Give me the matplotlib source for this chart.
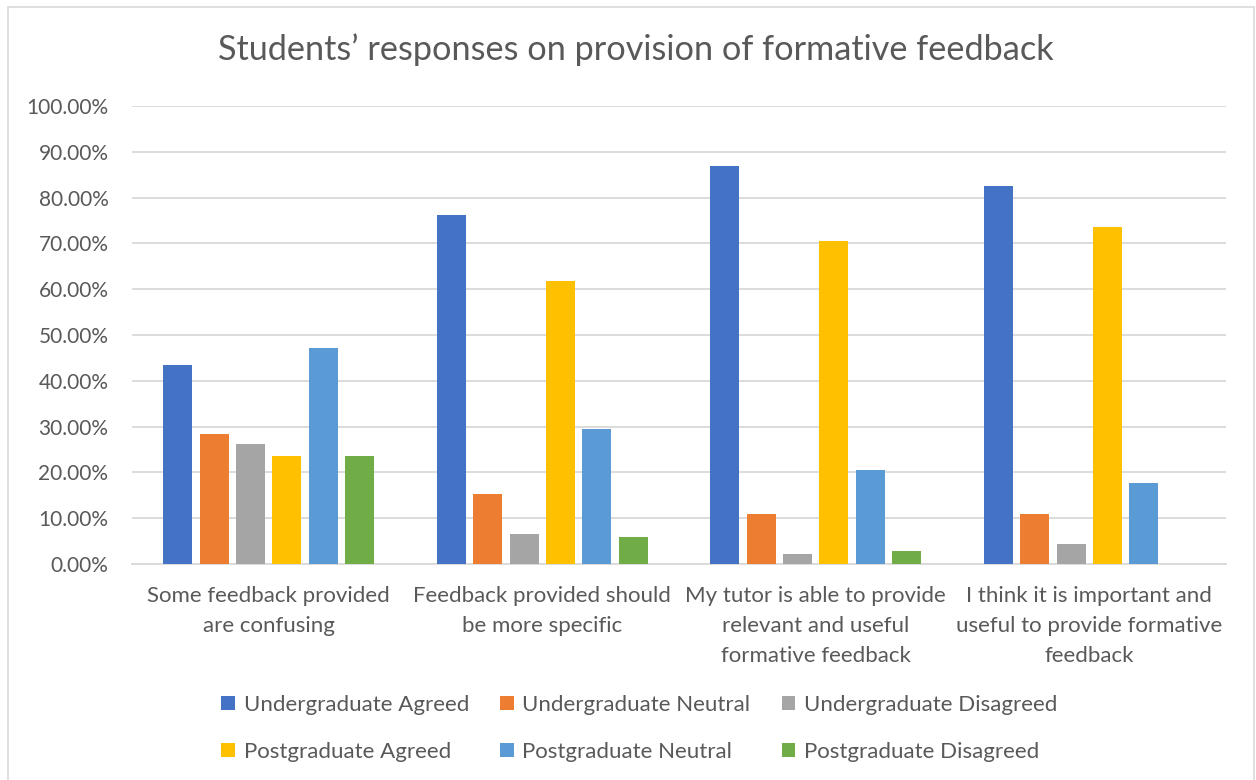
import numpy as np
import matplotlib.pyplot as plt
from matplotlib.ticker import PercentFormatter

plt.rcParams['font.family'] = ['Lato', 'DejaVu Sans']

# Survey statements (x-axis categories)
categories = [
    'Some feedback provided\nare confusing',
    'Feedback provided should\nbe more specific',
    'My tutor is able to provide\nrelevant and useful\nformative feedback',
    'I think it is important and\nuseful to provide formative\nfeedback',
]

# Response shares (%) per group
ug_agreed = [43.5, 76.1, 87.0, 82.6]
ug_neutral = [28.3, 15.2, 10.9, 10.9]
ug_disagreed = [26.1, 6.5, 2.2, 4.3]
pg_agreed = [23.5, 61.8, 70.6, 73.5]
pg_neutral = [47.1, 29.4, 20.6, 17.6]
pg_disagreed = [23.5, 5.9, 2.9, 0.0]

series = [
    ('Undergraduate Agreed', ug_agreed, '#4472C4'),
    ('Undergraduate Neutral', ug_neutral, '#ED7D31'),
    ('Undergraduate Disagreed', ug_disagreed, '#A5A5A5'),
    ('Postgraduate Agreed', pg_agreed, '#FFC000'),
    ('Postgraduate Neutral', pg_neutral, '#5B9BD5'),
    ('Postgraduate Disagreed', pg_disagreed, '#70AD47'),
]

text_color = '#595959'
grid_color = '#D9D9D9'

fig = plt.figure(figsize=(12.56, 7.8), dpi=100)
ax = fig.add_axes([132 / 1256, 1 - 564 / 780, 1094 / 1256, 458 / 780])

x = np.arange(len(categories))
step = 0.1332
width = 0.106
handles = []
for i, (name, vals, color) in enumerate(series):
    offset = (i - 2.5) * step
    bars = ax.bar(x + offset, vals, width, color=color, label=name, zorder=3)
    handles.append(bars)

ax.set_xlim(-0.5, len(categories) - 0.5)
ax.set_ylim(0, 100)
ax.set_yticks(np.arange(0, 101, 10))
ax.yaxis.set_major_formatter(PercentFormatter(decimals=2))
ax.grid(axis='y', color=grid_color, linewidth=1.3, zorder=0)
ax.set_xticks(x)
ax.set_xticklabels(categories, fontsize=16, color=text_color, linespacing=1.62)
ax.tick_params(axis='x', length=0, pad=16)
ax.tick_params(axis='y', length=0, pad=17, labelsize=15, labelcolor=text_color)
for side in ['top', 'right', 'left']:
    ax.spines[side].set_visible(False)
ax.spines['bottom'].set_color(grid_color)
ax.spines['bottom'].set_linewidth(1.3)

fig.text(0.506, 1 - 50 / 780, 'Students\u2019 responses on provision of formative feedback',
         ha='center', va='center', fontsize=24.7, color=text_color)

# legend fills column-wise, so interleave to get the two rows of three
order = [0, 3, 1, 4, 2, 5]
fig.legend([handles[k] for k in order], [series[k][0] for k in order],
           loc='center', bbox_to_anchor=(0.509, 1 - 728.5 / 780), ncol=3,
           frameon=False, fontsize=16, labelcolor=text_color,
           handlelength=0.6, handleheight=0.6, handletextpad=0.4,
           columnspacing=1.4, labelspacing=1.22)

# Outer chart frame
frame = plt.Rectangle((8 / 1256, -0.01), 1246 / 1256, 1 - 7 / 780 + 0.01,
                      transform=fig.transFigure, fill=False,
                      edgecolor=grid_color, linewidth=1.2)
fig.patches.append(frame)

fig.savefig('out.png', dpi=100)
